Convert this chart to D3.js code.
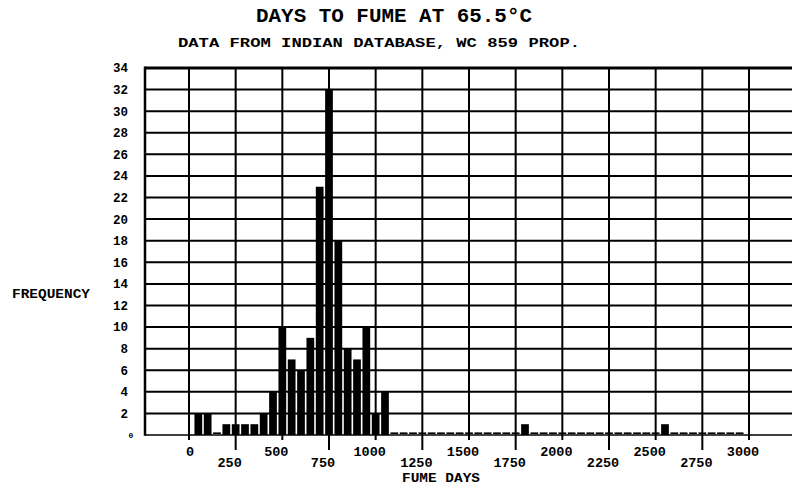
<!DOCTYPE html>
<html>
<head>
<meta charset="utf-8">
<script src="https://cdn.jsdelivr.net/npm/d3@7"></script>
<style>
  html, body { margin: 0; padding: 0; background: #fff; }
  svg { display: block; }
  text { font-family: "Liberation Mono", "Courier New", monospace; font-weight: bold; fill: #000; }
</style>
</head>
<body>
<svg id="chart" width="792" height="487"></svg>
<script>
// Histogram of fume days (bin width 50 days), bins named by their centre
const binCenters = [50, 100, 200, 250, 300, 350, 400, 450, 500, 550, 600, 650, 700, 750, 800, 850, 900, 950, 1000, 1050, 1800, 2550];
const counts     = [2,  2,   1,   1,   1,   1,   2,   4,   10,  7,   6,   9,   23,  32,  18,  8,   7,   10,  2,    4,    1,    1];
const binWidth = 50;

// Axis ticks
const xTicks = [0, 250, 500, 750, 1000, 1250, 1500, 1750, 2000, 2250, 2500, 2750, 3000];
const yTicks = [0, 2, 4, 6, 8, 10, 12, 14, 16, 18, 20, 22, 24, 26, 28, 30, 32, 34];

const titleText = "DAYS TO FUME AT 65.5°C";
const subtitleText = "DATA FROM INDIAN DATABASE, WC 859 PROP.";
const xTitle = "FUME DAYS";
const yTitle = "FREQUENCY";

const W = 792, H = 487;
const frameLeft = 145, frameRight = W;
const svg = d3.select("#chart");

const x = d3.scaleLinear().domain([0, 3000]).range([189, 749]);
const y = d3.scaleLinear().domain([0, 34]).range([435, 68]);

// every 50-day bin across the axis; empty ones show as short dashes on the baseline
const countByBin = new Map(binCenters.map((c, i) => [c, counts[i]]));
const allBins = d3.range(50, 3000, binWidth).map(c => ({ c, n: countByBin.get(c) || 0 }));

// horizontal grid lines
svg.append("g").selectAll("line")
  .data(yTicks.filter(v => v > 0))
  .join("line")
  .attr("x1", frameLeft).attr("x2", frameRight)
  .attr("y1", d => y(d)).attr("y2", d => y(d))
  .attr("stroke", "#000")
  .attr("stroke-width", d => d === 34 ? 2.8 : 2);

// vertical grid lines, running below the baseline as tick marks
svg.append("g").selectAll("line")
  .data(xTicks)
  .join("line")
  .attr("x1", d => x(d)).attr("x2", d => x(d))
  .attr("y1", y(34))
  .attr("y2", d => d % 500 === 0 ? 440 : 450)
  .attr("stroke", "#000")
  .attr("stroke-width", 2);

// left frame and baseline
svg.append("line")
  .attr("x1", frameLeft).attr("x2", frameLeft)
  .attr("y1", y(34) - 1.4).attr("y2", y(0) + 0.8)
  .attr("stroke", "#000").attr("stroke-width", 2.5);
svg.append("line")
  .attr("x1", frameLeft).attr("x2", frameRight)
  .attr("y1", y(0)).attr("y2", y(0))
  .attr("stroke", "#000").attr("stroke-width", 1.6);

// bars
svg.append("g").selectAll("rect")
  .data(allBins)
  .join("rect")
  .attr("x", d => x(d.c - binWidth / 2) + 0.8)
  .attr("width", d => x(d.c + binWidth / 2) - x(d.c - binWidth / 2) - 1.6)
  .attr("y", d => d.n > 0 ? y(d.n) : y(0) - 2.6)
  .attr("height", d => d.n > 0 ? y(0) - y(d.n) : 1.6)
  .attr("fill", "#000");

// y tick labels
svg.append("g").selectAll("text")
  .data(yTicks)
  .join("text")
  .attr("x", d => d === 0 ? 131 : 128)
  .attr("y", d => d === 0 ? 437.5 : y(d) + 4.4)
  .attr("text-anchor", d => d === 0 ? "middle" : "end")
  .attr("font-size", d => d === 0 ? 8 : 12.5)
  .text(d => d);

// x tick labels, staggered on two rows
svg.append("g").selectAll("text")
  .data(xTicks)
  .join("text")
  .attr("x", d => x(d) + (d === 0 ? 1 : -6))
  .attr("y", d => d % 500 === 0 ? 456 : 467)
  .attr("text-anchor", "middle")
  .attr("font-size", 13.5)
  .text(d => d);

// titles
svg.append("text")
  .attr("x", 394).attr("y", 22)
  .attr("text-anchor", "middle")
  .attr("font-size", 19.5)
  .attr("textLength", 276).attr("lengthAdjust", "spacingAndGlyphs")
  .text(titleText);

svg.append("text")
  .attr("x", 379).attr("y", 47)
  .attr("text-anchor", "middle")
  .attr("font-size", 13)
  .attr("textLength", 402).attr("lengthAdjust", "spacingAndGlyphs")
  .text(subtitleText);

svg.append("text")
  .attr("x", 441).attr("y", 482)
  .attr("text-anchor", "middle")
  .attr("font-size", 12.5)
  .attr("textLength", 78).attr("lengthAdjust", "spacingAndGlyphs")
  .text(xTitle);

svg.append("text")
  .attr("x", 12).attr("y", 298)
  .attr("font-size", 12)
  .attr("textLength", 78).attr("lengthAdjust", "spacingAndGlyphs")
  .text(yTitle);
</script>
</body>
</html>
